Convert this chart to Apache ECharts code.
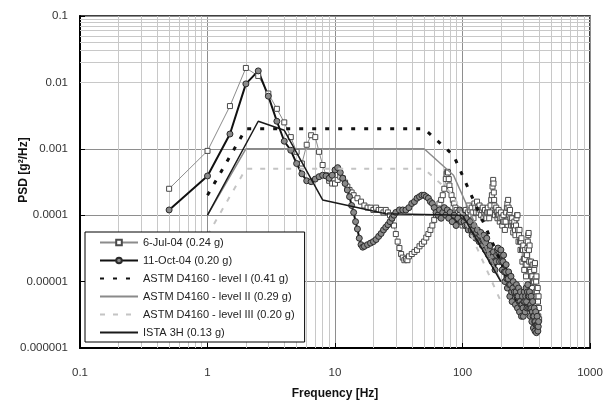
<!DOCTYPE html>
<html>
<head>
<meta charset="utf-8">
<script src="https://cdn.jsdelivr.net/npm/echarts@6/dist/echarts.min.js"></script>
<style>
  html, body { margin: 0; padding: 0; background: #fff; }
  #chart { width: 611px; height: 400px; }
</style>
</head>
<body>
<div id="chart"></div>
<script>
// Tick labels for the two logarithmic axes
const xTickLabels = ['0.1', '1', '10', '100', '1000'];
const yTickLabels = ['0.000001', '0.00001', '0.0001', '0.001', '0.01', '0.1'];

const seriesNames = [
  '6-Jul-04 (0.24 g)',
  '11-Oct-04 (0.20 g)',
  'ASTM D4160 - level I (0.41 g)',
  'ASTM D4160 - level II (0.29 g)',
  'ASTM D4160 - level III (0.20 g)',
  'ISTA 3H (0.13 g)'
];

// Measured PSD, 6 July 2004 [Hz, g^2/Hz]
const jul04 = [
  [0.5, 0.00025], [1.0, 0.00093], [1.5, 0.0044], [2.0, 0.0165], [2.5, 0.0125], [3.0, 0.0068],
  [3.5, 0.0040], [4.0, 0.0025], [4.5, 0.0015], [5.0, 0.0009], [5.5, 0.0006], [6.0, 0.00115],
  [6.5, 0.0016], [7.0, 0.0015], [7.5, 0.0009], [8.0, 0.00057], [8.5, 0.0004], [9.0, 0.00033],
  [9.5, 0.0003], [10, 0.0003], [10.5, 0.00034], [11, 0.00038], [11.5, 0.00036], [12, 0.00031],
  [12.5, 0.00027], [13, 0.00024], [13.5, 0.00022], [14, 0.0002], [15, 0.00018], [16, 0.00016],
  [17, 0.00014], [18, 0.00013], [19, 0.00013], [20, 0.00012], [21, 0.00013], [22, 0.00012],
  [23, 0.00012], [24, 0.00011], [25, 0.00012], [26, 0.00011], [27, 0.0001], [28, 0.00009],
  [29, 0.00007], [30, 0.000052], [31, 0.00004], [32, 0.000032], [33, 0.000026], [34, 0.000023],
  [35, 0.000021], [36, 0.000022], [37, 0.000021], [38, 0.000024], [40, 0.000026], [42, 0.000028],
  [44, 0.00003], [46, 0.000034], [48, 0.000037], [50, 0.00004], [52, 0.000046], [54, 0.000052],
  [56, 0.00006], [58, 0.00007], [60, 0.000085], [62, 0.0001], [64, 0.00013], [66, 0.00015],
  [68, 0.00017], [70, 0.0002], [72, 0.00025], [74, 0.00035], [75, 0.00042], [76, 0.00045],
  [77, 0.00044], [78, 0.00035], [79, 0.00028], [80, 0.00024], [82, 0.0002], [84, 0.00017],
  [86, 0.00015], [88, 0.00013], [90, 0.00012], [92, 0.00011], [95, 0.0001], [98, 0.00008],
  [100, 0.00007], [102, 0.00008], [104, 0.0001], [106, 0.00012], [108, 0.00009], [110, 0.00011],
  [112, 0.00014], [114, 0.00012], [116, 0.0001], [118, 0.00013], [120, 0.00011], [122, 0.00009],
  [124, 0.00015], [126, 0.00013], [128, 0.00011], [130, 0.00016], [132, 0.00013], [134, 0.00011],
  [136, 0.00014], [138, 0.00012], [140, 0.0001], [142, 0.00012], [144, 0.00013], [146, 0.00009],
  [148, 0.00011], [150, 0.00012], [152, 0.0001], [154, 0.00009], [156, 0.00011], [158, 0.00013],
  [160, 0.00011], [162, 0.00009], [164, 0.00011], [166, 0.00014], [168, 0.00017], [170, 0.0002],
  [172, 0.00027], [174, 0.00034], [175, 0.0003], [176, 0.00022], [177, 0.00017], [178, 0.00014],
  [180, 0.0001], [182, 0.00012], [184, 0.00013], [186, 0.00011], [188, 0.00009], [190, 0.0001],
  [192, 0.00012], [194, 0.0001], [196, 0.00008], [198, 0.00009], [200, 0.00011], [203, 0.00009],
  [205, 0.00007], [208, 0.00008], [210, 0.0001], [213, 0.00008], [215, 0.00006], [218, 0.00008],
  [220, 0.00011], [223, 0.00013], [225, 0.00015], [228, 0.00017], [230, 0.00013], [232, 0.0001],
  [234, 0.00011], [236, 0.00012], [238, 0.00009], [240, 0.00007], [243, 0.00008], [245, 0.00009],
  [248, 0.00007], [250, 0.000055], [253, 0.00007], [255, 0.00008], [258, 0.00006], [260, 0.00005],
  [263, 0.00007], [265, 0.00009], [268, 0.0001], [270, 0.0001], [273, 0.00006], [275, 0.00004],
  [278, 0.00005], [280, 0.00006], [283, 0.00004], [285, 0.00003], [288, 0.00004], [290, 0.000045],
  [293, 0.00003], [295, 0.00002], [298, 0.00003], [300, 0.000035], [303, 0.000022], [305, 0.000015],
  [308, 0.000022], [310, 0.00003], [313, 0.000018], [315, 0.000012], [318, 0.000018], [320, 0.000025],
  [323, 0.000032], [325, 0.00004], [328, 0.00005], [330, 0.000054], [332, 0.00003], [334, 0.00002],
  [336, 0.000035], [338, 0.000015], [340, 0.000009], [343, 0.000014], [345, 0.00002], [348, 0.000012],
  [350, 0.000008], [353, 0.000012], [355, 0.000018], [358, 0.00001], [360, 0.000006], [363, 0.00001],
  [365, 0.000015], [368, 0.000018], [370, 0.000019], [373, 0.000011], [375, 0.000007], [378, 0.00001],
  [380, 0.000012], [383, 0.000007], [385, 0.000004], [387, 0.000006], [389, 0.000008], [391, 0.000005],
  [393, 0.000003], [395, 0.000006], [397, 0.000004], [399, 0.0000027]
];

// Measured PSD, 11 October 2004 [Hz, g^2/Hz]
const oct04 = [
  [0.5, 0.00012], [1.0, 0.00039], [1.5, 0.00167], [2.0, 0.0095], [2.5, 0.0149], [3.0, 0.0062],
  [3.5, 0.0026], [4.0, 0.0013], [4.5, 0.00095], [5.0, 0.0006], [5.5, 0.00042], [6.0, 0.00033],
  [6.5, 0.00032], [7.0, 0.00035], [7.5, 0.00038], [8.0, 0.0004], [8.5, 0.00039], [9.0, 0.00036],
  [9.5, 0.0004], [10, 0.00048], [10.5, 0.00052], [11, 0.00044], [11.5, 0.00036], [12, 0.0003],
  [12.5, 0.00024], [13, 0.00019], [13.5, 0.00014], [14, 0.00011], [14.5, 0.00008], [15, 0.000062],
  [15.5, 0.000045], [16, 0.000036], [16.5, 0.000033], [17, 0.000034], [18, 0.000036], [19, 0.000038],
  [20, 0.00004], [21, 0.000043], [22, 0.000048], [23, 0.000053], [24, 0.00006], [25, 0.000066],
  [26, 0.000072], [27, 0.00008], [28, 0.00009], [29, 0.0001], [30, 0.00011], [32, 0.00012],
  [34, 0.00012], [36, 0.00012], [38, 0.00013], [40, 0.00015], [42, 0.00016], [44, 0.00018],
  [46, 0.00019], [48, 0.0002], [50, 0.0002], [52, 0.00019], [54, 0.00018], [56, 0.00016],
  [58, 0.00015], [60, 0.00013], [62, 0.00011], [64, 0.0001], [66, 0.00012], [68, 0.00009],
  [70, 0.00011], [72, 0.00013], [74, 0.0001], [76, 0.00012], [78, 0.00009], [80, 0.00011],
  [83, 0.00008], [86, 0.0001], [89, 0.00007], [92, 0.00009], [95, 0.00012], [98, 0.00008],
  [101, 0.0001], [103, 0.00008], [105, 0.00007], [107, 0.00009], [109, 0.00007], [111, 0.00006],
  [113, 0.00007], [115, 0.00008], [117, 0.00006], [119, 0.00005], [121, 0.00006], [123, 0.00007],
  [125, 0.00005], [127, 0.000045], [129, 0.000055], [131, 0.00006], [133, 0.000045], [135, 0.00004],
  [137, 0.00005], [139, 0.000055], [141, 0.00004], [143, 0.000035], [145, 0.000042], [147, 0.00005],
  [149, 0.00004], [151, 0.00003], [153, 0.000038], [155, 0.000045], [158, 0.000032], [160, 0.000025],
  [163, 0.00003], [165, 0.000035], [168, 0.000026], [170, 0.00002], [173, 0.000024], [175, 0.000028],
  [178, 0.00002], [180, 0.000015], [183, 0.00002], [185, 0.000025], [188, 0.00003], [190, 0.000032],
  [193, 0.000026], [195, 0.00002], [198, 0.000025], [200, 0.00003], [203, 0.00002], [205, 0.000015],
  [208, 0.00002], [210, 0.000025], [213, 0.000014], [215, 0.00001], [218, 0.000014], [220, 0.000018],
  [223, 0.000011], [225, 0.000008], [228, 0.000011], [230, 0.000014], [233, 0.000009], [235, 0.000006],
  [238, 0.000009], [240, 0.000012], [243, 0.000007], [245, 0.000005], [248, 0.000008], [250, 0.00001],
  [255, 0.000007], [260, 0.0000045], [263, 0.000007], [265, 0.000009], [268, 0.000006], [270, 0.000004],
  [273, 0.000006], [275, 0.000008], [278, 0.000005], [280, 0.0000035], [283, 0.000005], [285, 0.000007],
  [288, 0.0000045], [290, 0.000003], [293, 0.0000045], [295, 0.000006], [298, 0.000004], [300, 0.000003],
  [303, 0.000005], [305, 0.000007], [308, 0.000005], [310, 0.0000035], [313, 0.000006], [315, 0.000008],
  [318, 0.000005], [320, 0.000004], [323, 0.000007], [325, 0.000009], [328, 0.000006], [330, 0.000004],
  [333, 0.000006], [335, 0.000007], [338, 0.000004], [340, 0.000003], [343, 0.0000045], [345, 0.000006],
  [348, 0.000004], [350, 0.0000025], [353, 0.0000035], [355, 0.000005], [358, 0.000003], [360, 0.000002],
  [363, 0.000003], [365, 0.000004], [368, 0.0000025], [370, 0.0000018], [373, 0.0000025], [375, 0.0000035],
  [378, 0.0000022], [380, 0.0000017], [383, 0.0000022], [385, 0.000003], [388, 0.0000022], [390, 0.0000018],
  [393, 0.0000021], [395, 0.0000025]
];

// Test specification profiles [Hz, g^2/Hz]
const astmLevel1 = [[1, 0.0002], [2, 0.002], [50, 0.002], [85, 0.0008], [200, 0.00002]];
const astmLevel2 = [[1, 0.0001], [2, 0.001], [50, 0.001], [85, 0.0004], [200, 0.00001]];
const astmLevel3 = [[1, 0.00005], [2, 0.0005], [50, 0.0005], [85, 0.0002], [200, 0.000005]];
const ista3h = [[1, 0.0001], [2.5, 0.0026], [4, 0.0019], [8, 0.00017], [25, 0.000105], [100, 0.0001], [200, 0.00001]];

// Minor gridlines at 2..9 within each decade
const minorX = [];
[0.1, 1, 10, 100].forEach(d => { for (let m = 2; m <= 9; m++) minorX.push(+(d * m).toPrecision(3)); });
const minorY = [];
[1e-6, 1e-5, 1e-4, 1e-3, 1e-2].forEach(d => { for (let m = 2; m <= 9; m++) minorY.push(+(d * m).toPrecision(3)); });

const FONT = '"Liberation Sans", Arial, sans-serif';
const CLEAR = 'rgba(0,0,0,0)';

const chart = echarts.init(document.getElementById('chart'), null, { renderer: 'canvas' });

chart.setOption({
  animation: false,
  backgroundColor: '#ffffff',
  grid: {
    left: 80, right: 21, top: 16, bottom: 52,
    containLabel: false, outerBoundsMode: 'none',
    show: true, borderColor: '#000', borderWidth: 1.5, backgroundColor: 'transparent'
  },
  legend: {
    data: seriesNames,
    orient: 'vertical',
    left: 85, top: 232, z: 20,
    itemWidth: 38, itemHeight: 7, itemGap: 7,
    padding: [5, 10, 4, 14],
    backgroundColor: '#ffffff',
    borderColor: '#000', borderWidth: 1, borderRadius: 0,
    textStyle: { fontFamily: FONT, fontSize: 11, color: '#222' },
    selectedMode: false
  },
  xAxis: {
    type: 'log', logBase: 10, min: 0.1, max: 1000,
    name: 'Frequency [Hz]', nameLocation: 'middle', nameGap: 40, nameMoveOverlap: false,
    nameTextStyle: { fontFamily: FONT, fontSize: 12, fontWeight: 'bold', color: '#111' },
    axisLine: { show: true, onZero: false, lineStyle: { color: '#000', width: 2 } },
    axisTick: { show: true, inside: true, length: 5, lineStyle: { color: '#000' } },
    axisLabel: {
      fontFamily: FONT, fontSize: 11.5, color: '#333', margin: 19,
      formatter: v => xTickLabels[Math.round(Math.log10(v)) + 1]
    },
    splitLine: { show: true, lineStyle: { color: '#8e8e8e', width: 1 } }
  },
  yAxis: {
    type: 'log', logBase: 10, min: 1e-6, max: 0.1,
    name: 'PSD [g²/Hz]', nameLocation: 'middle', nameGap: 50, nameMoveOverlap: false,
    nameTextStyle: { fontFamily: FONT, fontSize: 12, fontWeight: 'bold', color: '#111', padding: [0, 0, 0, 24] },
    axisLine: { show: true, onZero: false, lineStyle: { color: '#000', width: 2 } },
    axisTick: { show: true, inside: true, length: 5, lineStyle: { color: '#000' } },
    axisLabel: {
      fontFamily: FONT, fontSize: 11.5, color: '#333', margin: 12,
      formatter: v => yTickLabels[Math.round(Math.log10(v)) + 6]
    },
    splitLine: { show: true, lineStyle: { color: '#8e8e8e', width: 1 } }
  },
  series: [
    {
      name: 'minor grid', type: 'line', data: [], z: 1, silent: true,
      markLine: {
        silent: true, symbol: ['none', 'none'], animation: false, z: 1,
        label: { show: false },
        lineStyle: { color: '#c8c8c8', width: 1, type: 'solid' },
        emphasis: { disabled: true },
        data: minorX.map(v => ({ xAxis: v })).concat(minorY.map(v => ({ yAxis: v })))
      }
    },
    {
      name: seriesNames[0], type: 'line', data: jul04, z: 3,
      symbol: 'rect', symbolSize: 5, showSymbol: true,
      lineStyle: { color: '#8c8c8c', width: 1 },
      itemStyle: { color: '#ffffff', borderColor: '#4a4a4a', borderWidth: 1 }
    },
    {
      name: seriesNames[1], type: 'line', data: oct04, z: 3,
      symbol: 'circle', symbolSize: 6, showSymbol: true,
      lineStyle: { color: '#111111', width: 2 },
      itemStyle: { color: '#8a8a8a', borderColor: '#2b2b2b', borderWidth: 1 }
    },
    {
      name: seriesNames[2], type: 'line', data: astmLevel1, z: 4,
      symbol: 'none', showSymbol: false,
      lineStyle: { color: '#111111', width: 3, type: [4, 9] },
      itemStyle: { color: CLEAR, borderColor: CLEAR }
    },
    {
      name: seriesNames[3], type: 'line', data: astmLevel2, z: 4,
      symbol: 'none', showSymbol: false,
      lineStyle: { color: '#8a8a8a', width: 1.5 },
      itemStyle: { color: CLEAR, borderColor: CLEAR }
    },
    {
      name: seriesNames[4], type: 'line', data: astmLevel3, z: 4,
      symbol: 'none', showSymbol: false,
      lineStyle: { color: '#c4c4c4', width: 2, type: [5, 8] },
      itemStyle: { color: CLEAR, borderColor: CLEAR }
    },
    {
      name: seriesNames[5], type: 'line', data: ista3h, z: 4,
      symbol: 'none', showSymbol: false,
      lineStyle: { color: '#1a1a1a', width: 1.5 },
      itemStyle: { color: CLEAR, borderColor: CLEAR }
    }
  ]
});
</script>
</body>
</html>
